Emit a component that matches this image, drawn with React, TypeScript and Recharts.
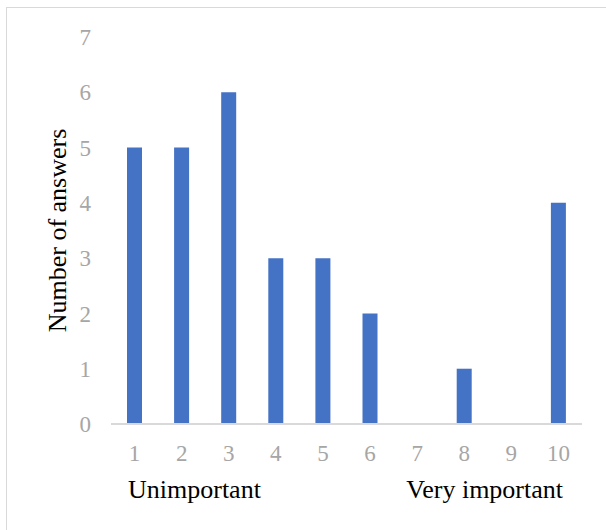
import React from 'react';
import { BarChart, Bar, XAxis, YAxis, Label } from 'recharts';

const scores = ['1', '2', '3', '4', '5', '6', '7', '8', '9', '10'];
const answers = [5, 5, 6, 3, 3, 2, 0, 1, 0, 4];
const yTicks = [0, 1, 2, 3, 4, 5, 6, 7];

const data = scores.map((score, i) => ({ score, answers: answers[i] }));

const FONT = '"Liberation Serif", "Times New Roman", serif';
const TICK_GRAY = '#A6A6A6';
const textStyle = { fontFamily: FONT, fontSize: 26, fill: '#000' };

const App: React.FC = () => {
  return (
    <div style={{ position: 'absolute', left: 0, top: 0, width: 606, height: 530, overflow: 'hidden', background: '#fff', fontFamily: FONT }}>
      {/* frame around the chart area */}
      <div style={{ position: 'absolute', left: 6, top: 7, width: 640, height: 560, border: '1px solid #D9D9D9' }} />
      <div style={{ position: 'absolute', left: 0, top: 0 }}>
        <BarChart width={606} height={530} data={data} margin={{ top: 37, right: 24, bottom: 0, left: 0 }}>
          <XAxis
            dataKey="score"
            height={106}
            axisLine={{ stroke: '#D9D9D9', strokeWidth: 2 }}
            tickLine={false}
            tickSize={0}
            tickMargin={21}
            tick={{ fill: TICK_GRAY, fontSize: 23, fontFamily: FONT }}
            interval={0}
          >
            <Label
              content={(props: any) => {
                const vb = props.viewBox;
                const y = vb.y + 74;
                return (
                  <g>
                    <text x={vb.x + 17} y={y} textAnchor="start" style={textStyle}>Unimportant</text>
                    <text x={vb.x + vb.width - 19} y={y} textAnchor="end" style={textStyle}>Very important</text>
                  </g>
                );
              }}
            />
          </XAxis>
          <YAxis
            width={111}
            domain={[0, 7]}
            ticks={yTicks}
            axisLine={false}
            tickLine={false}
            tickSize={0}
            tickMargin={20}
            tick={{ fill: TICK_GRAY, fontSize: 23, fontFamily: FONT }}
          >
            <Label
              content={(props: any) => {
                const vb = props.viewBox;
                const cy = vb.y + vb.height / 2;
                return (
                  <text transform={`translate(66, ${cy}) rotate(-90)`} textAnchor="middle" style={textStyle}>
                    Number of answers
                  </text>
                );
              }}
            />
          </YAxis>
          <Bar dataKey="answers" fill="#4472C4" barSize={15} isAnimationActive={false} />
        </BarChart>
      </div>
    </div>
  );
};

export default App;
